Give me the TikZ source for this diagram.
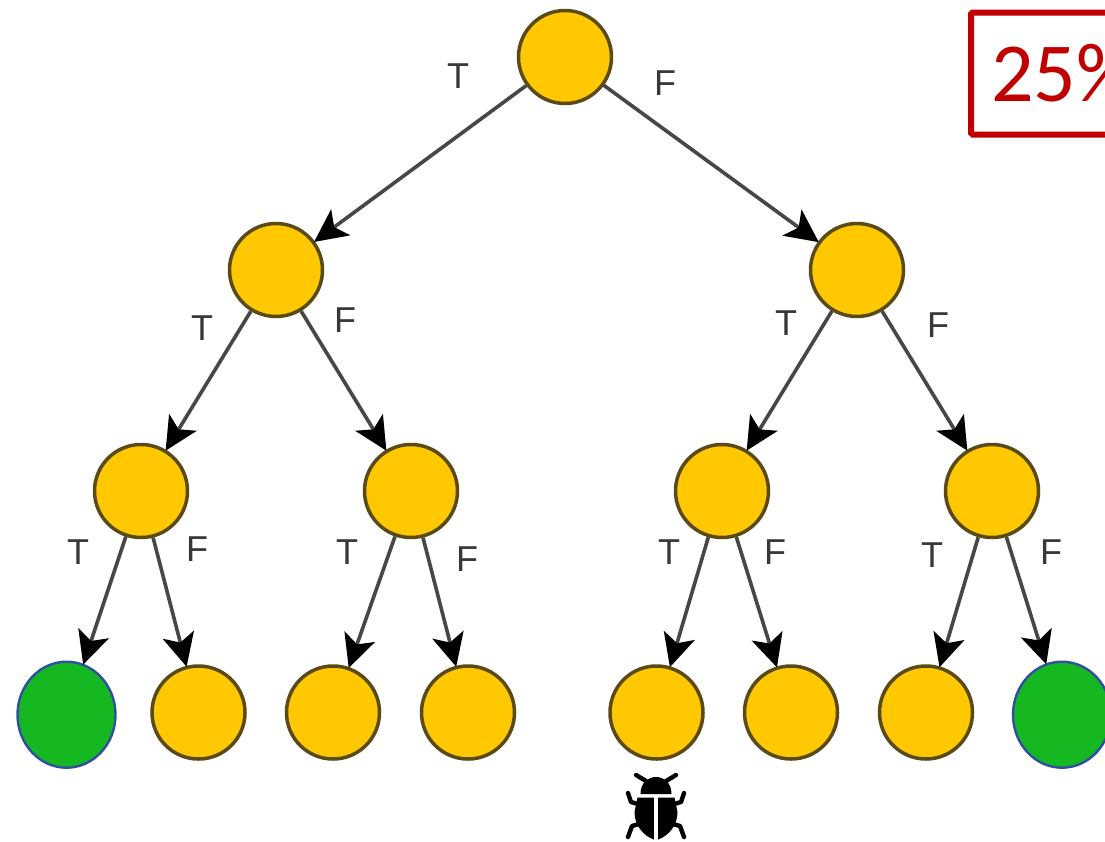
\documentclass[tikz,border=0pt]{standalone}
\usepackage{fontspec}
\setmainfont{Liberation Sans}
\newfontfamily\pctfont{Carlito}
\usetikzlibrary{arrows.meta,shapes.geometric}
\definecolor{goldfill}{HTML}{FFC800}
\definecolor{goldline}{HTML}{5A4A14}
\definecolor{greenfill}{HTML}{16B822}
\definecolor{greenline}{HTML}{2F4FA0}
\definecolor{pctred}{HTML}{C00000}
\tikzset{
	test/.style={circle, draw=goldline, fill=goldfill, line width=3.5pt, minimum size=93pt, inner sep=0pt},
	hit/.style={ellipse, draw=greenline, fill=greenfill, line width=2.4pt, minimum width=98pt, minimum height=106pt, inner sep=0pt},
	branch/.style={draw=black!72, line width=3.6pt, -{Stealth[length=33pt, width=32pt, inset=8pt, black]}, shorten >=-1pt},
	tf/.style={text=black!78, font=\fontsize{36}{36}\selectfont, inner sep=0pt},
	leg/.style={line width=4.4pt, line cap=round, line join=round}
}

\begin{document}
\begin{tikzpicture}[x=1pt, y=-1pt]
			%%%%% START %%%%%
			\useasboundingbox (0, 0) rectangle (1105, 841);
			\clip (0, 0) rectangle (1105, 841);
			\fill[white] (0, 0) rectangle (1105, 841);
			
			\node[test] (root) at (565, 57) {};
			
			\node[test] (l) at (276, 270) {};
			\node[test] (r) at (857, 270) {};
			
			\node[test] (ll) at (141, 491) {};
			\node[test] (lr) at (411, 491) {};
			\node[test] (rl) at (722, 491) {};
			\node[test] (rr) at (992, 491) {};
			
			\node[hit] (lll) at (66.5, 714.7) {};
			\node[test] (llr) at (198.5, 712.5) {};
			\node[test] (lrl) at (333, 712.5) {};
			\node[test] (lrr) at (468, 712.5) {};
			\node[test] (rll) at (656.5, 712.5) {};
			\node[test] (rlr) at (791, 712.5) {};
			\node[test] (rrl) at (926, 712.5) {};
			\node[hit] (rrr) at (1062, 714.7) {};
			
			\draw[branch] (root) -- (l);
			\draw[branch] (root) -- (r);
			
			\draw[branch] (l) -- (ll);
			\draw[branch] (l) -- (lr);
			\draw[branch] (r) -- (rl);
			\draw[branch] (r) -- (rr);
			
			\draw[branch] (ll) -- (lll);
			\draw[branch] (ll) -- (llr);
			\draw[branch] (lr) -- (lrl);
			\draw[branch] (lr) -- (lrr);
			\draw[branch] (rl) -- (rll);
			\draw[branch] (rl) -- (rlr);
			\draw[branch] (rr) -- (rrl);
			\draw[branch] (rr) -- (rrr);
			
			\node[tf] (t0) at (458, 76) {T};
			\node[tf] (f0) at (665, 83) {F};
			\node[tf] (t1) at (202, 328) {T};
			\node[tf] (f1) at (345, 320) {F};
			\node[tf] (t2) at (786, 323) {T};
			\node[tf] (f2) at (938, 325) {F};
			\node[tf] (t3) at (78, 552) {T};
			\node[tf] (f3) at (197, 549) {F};
			\node[tf] (t4) at (347, 552) {T};
			\node[tf] (f4) at (467, 559) {F};
			\node[tf] (t5) at (669, 552) {T};
			\node[tf] (f5) at (775, 552) {F};
			\node[tf] (t6) at (932, 555) {T};
			\node[tf] (f6) at (1051, 552) {F};
			
			% percentage box, runs off the page
			\node[draw=pctred, line width=6pt, rounded corners=1.5pt, anchor=west, text=pctred, minimum height=122pt, inner xsep=20pt, inner ysep=0pt, font=\pctfont\fontsize{84}{84}\selectfont] (pct) at (968, 73.5) {25\%};
			
			% bug
			\begin{scope}[shift={(656, 760)}]
				\fill[black] (-15.5, 34) .. controls (-15.5, 22) and (-7, 17) .. (0, 17) .. controls (7, 17) and (15.5, 22) .. (15.5, 34) -- cycle;
				\fill[black] (-2.2, 37.5) -- (-18.5, 37.5) -- (-21.5, 52) .. controls (-21.5, 66) and (-12, 76) .. (-2.2, 79.5) -- cycle;
				\fill[black] (2.2, 37.5) -- (18.5, 37.5) -- (21.5, 52) .. controls (21.5, 66) and (12, 76) .. (2.2, 79.5) -- cycle;
				\draw[leg] (-20, 15) -- (-10, 21);
				\draw[leg] (20, 15) -- (10, 21);
				\draw[leg] (-28, 33) -- (-25, 42) -- (-18, 44);
				\draw[leg] (28, 33) -- (25, 42) -- (18, 44);
				\draw[leg] (-28, 77) -- (-24, 66) -- (-17, 64);
				\draw[leg] (28, 77) -- (24, 66) -- (17, 64);
			\end{scope}
			%%%%% END %%%%%
\end{tikzpicture}
\end{document}
